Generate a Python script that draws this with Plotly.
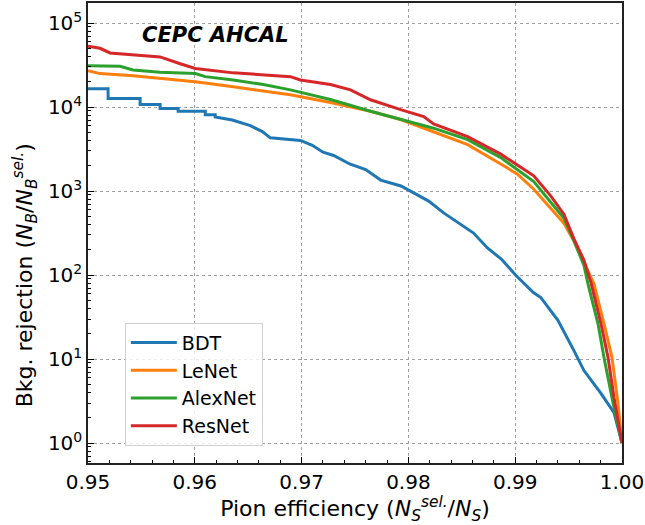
import plotly.graph_objects as go
import numpy as np

# ---- data ----
bdt_eff = [0.9500, 0.95188, 0.95188, 0.95488, 0.95488, 0.95675, 0.95675, 0.95844, 0.95844,
           0.96098, 0.96098, 0.96191, 0.96191, 0.96351, 0.9652, 0.96632, 0.96707, 0.96989,
           0.9710, 0.9720, 0.9730, 0.9745, 0.9760, 0.9774, 0.9793, 0.9802, 0.9819, 0.9833,
           0.9861, 0.9874, 0.9887, 0.9901, 0.9917, 0.9924, 0.9940, 0.9955, 0.99644, 0.99803,
           0.99925, 1.0]
bdt_rej = [16500, 16500, 12600, 12600, 10700, 10700, 9600, 9600, 8900,
           8900, 8100, 8100, 7600, 7000, 6000, 5100, 4300, 4000,
           3500, 2900, 2650, 2100, 1800, 1350, 1150, 1000, 760, 550,
           316, 210, 155, 98, 62, 54, 29, 12.6, 7.3, 3.9,
           2.3, 1.0]

lenet_eff = [0.9500, 0.95113, 0.95422, 0.96004, 0.9636, 0.96895, 0.97270, 0.97645, 0.97927,
             0.98236, 0.98555, 0.98865, 0.99024, 0.99174, 0.99334, 0.99456, 0.99550, 0.99681,
             0.99737, 0.99831, 0.99906, 0.99962, 1.0]
lenet_rej = [27000, 25000, 23500, 20000, 17400, 14000, 11300, 8900, 7100,
             5100, 3560, 2100, 1580, 1050, 630, 415, 255, 112,
             79, 26.5, 10.5, 3.0, 1.0]

alexnet_eff = [0.9500, 0.9530, 0.95422, 0.95675, 0.96004, 0.96098, 0.9636, 0.96642, 0.96895,
               0.97270, 0.97645, 0.97927, 0.98236, 0.98555, 0.98865, 0.99174, 0.99306, 0.99456,
               0.99550, 0.99644, 0.99681, 0.99775, 0.99831, 0.99916, 1.0]
alexnet_rej = [31000, 30500, 27600, 26000, 25000, 23000, 21000, 18500, 16000,
               12300, 8900, 7200, 5600, 4100, 2500, 1300, 800, 475,
               255, 130, 79, 26.5, 10.5, 3.0, 1.0]

resnet_eff = [0.9500, 0.95113, 0.95206, 0.95422, 0.95675, 0.95863, 0.96004, 0.9636, 0.96895,
              0.96989, 0.97270, 0.97458, 0.97645, 0.97927, 0.98143, 0.98236, 0.98555, 0.98865,
              0.99174, 0.99334, 0.99456, 0.99550, 0.99587, 0.99644, 0.99709, 0.99803, 0.99869,
              0.99925, 1.0]
resnet_rej = [53000, 50000, 44000, 42000, 39500, 32700, 28700, 25500, 23000,
              21000, 18500, 16000, 12200, 9300, 7700, 6300, 4450, 2750,
              1520, 870, 530, 270, 210, 150, 82, 26.5, 10.5,
              3.5, 1.0]

names = ["BDT", "LeNet", "AlexNet", "ResNet"]
colors = ["#1f77b4", "#ff7f0e", "#2ca02c", "#d62728"]
series = [(bdt_eff, bdt_rej), (lenet_eff, lenet_rej), (alexnet_eff, alexnet_rej), (resnet_eff, resnet_rej)]

fig = go.Figure()
for name, col, (x, y) in zip(names, colors, series):
    fig.add_trace(go.Scatter(x=x, y=y, mode="lines", name=name,
                             line=dict(color=col, width=3)))

font_family = "DejaVu Sans"
fig.update_layout(
    width=645, height=525,
    margin=dict(l=88, r=23, t=1, b=62),
    plot_bgcolor="white", paper_bgcolor="white",
    font=dict(family=font_family, color="black"),
    legend=dict(x=0.069, y=0.305, xanchor="left", yanchor="top",
                bgcolor="rgba(255,255,255,0.8)", bordercolor="#d0d0d0", borderwidth=1,
                font=dict(size=19, family=font_family), tracegroupgap=0, itemwidth=46),
    showlegend=True,
)

fig.update_xaxes(
    range=[0.95, 1.0], tickvals=[0.95, 0.96, 0.97, 0.98, 0.99, 1.00],
    ticktext=["0.95", "0.96", "0.97", "0.98", "0.99", "1.00"],
    ticks="inside", ticklen=6, tickwidth=1, tickcolor="black",
    tickfont=dict(size=20),
    showline=True, linecolor="#222", linewidth=1.5, mirror=True,
    showgrid=True, gridcolor="#a0a0a0", griddash="dot", gridwidth=1,
    zeroline=False,
    minor=dict(ticks="inside", ticklen=3, dtick=0.002, tick0=0.95, tickcolor="black", showgrid=False),
    title=dict(text="Pion efficiency (<i>N<sub>S</sub><sup>sel.</sup></i>/<i>N<sub>S</sub></i>)",
               font=dict(size=22), standoff=5),
)

yt = [1, 10, 100, 1000, 10000, 100000]
fig.update_yaxes(
    type="log", range=[np.log10(0.58), np.log10(1.73e5)],
    tickvals=yt, ticktext=["10<sup>%d</sup>" % i for i in range(6)],
    ticks="inside", ticklen=6, tickwidth=1, tickcolor="black",
    tickfont=dict(size=20),
    showline=True, linecolor="#222", linewidth=1.5, mirror=True,
    showgrid=True, gridcolor="#a0a0a0", griddash="dot", gridwidth=1,
    zeroline=False,
    minor=dict(ticks="inside", ticklen=3, dtick="D1", tickcolor="black", showgrid=False),
)

# y-axis title as a rotated annotation for precise placement
fig.add_annotation(x=-0.118, y=0.408, xref="paper", yref="paper", xanchor="center", yanchor="middle",
                   text="Bkg. rejection (<i>N<sub>B</sub></i>/<i>N<sub>B</sub><sup>sel.</sup></i>)",
                   textangle=-90, showarrow=False, font=dict(size=22, family=font_family))

fig.add_annotation(x=0.238, y=0.931, xref="paper", yref="paper", xanchor="center", yanchor="middle",
                   text="CEPC AHCAL", showarrow=False,
                   font=dict(size=21, family=font_family, weight="bold", style="italic"))

fig.write_html("out.html")
